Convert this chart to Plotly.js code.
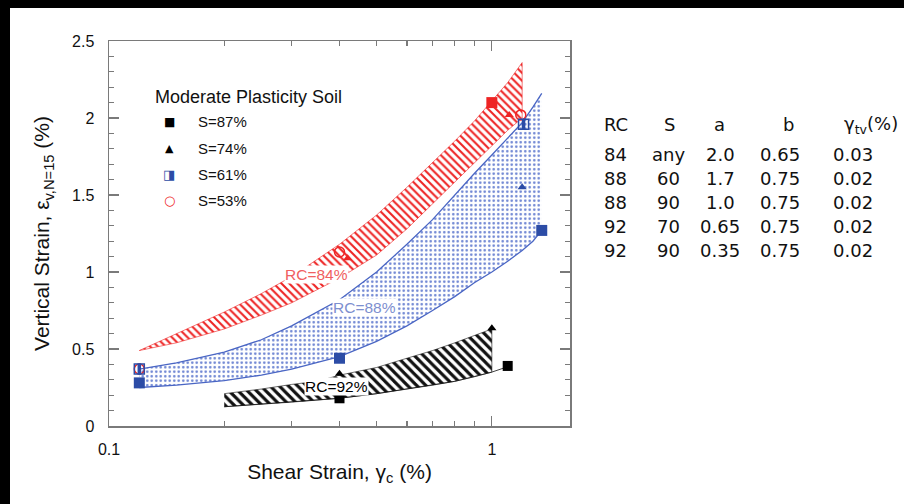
<!DOCTYPE html>
<html>
<head>
<meta charset="utf-8">
<script src="https://cdn.plot.ly/plotly-3.0.1.min.js"></script>
<style>
  html, body { margin: 0; padding: 0; background: #fff; overflow: hidden; }
  #wrap { position: relative; width: 904px; height: 504px; overflow: hidden; }
  #chart { position: absolute; left: 0; top: 0; width: 904px; height: 504px; }
  .bar { position: absolute; background: #000; }
</style>
</head>
<body>
<div id="wrap">
  <div id="chart"></div>
  <div class="bar" style="left:0;top:0;width:904px;height:8px"></div>
  <div class="bar" style="left:0;top:0;width:10px;height:504px"></div>
</div>
<script>
// ---- band edges (shear strain %, vertical strain %) ----
const redX     = [0.12, 0.15, 0.2, 0.25, 0.3, 0.4, 0.5, 0.6, 0.7, 0.8, 0.9, 1.0, 1.1, 1.2];
const redUpper = [0.49, 0.60, 0.74, 0.86, 0.97, 1.18, 1.37, 1.55, 1.71, 1.85, 1.98, 2.11, 2.23, 2.36];
const redLower = [0.49, 0.54, 0.63, 0.72, 0.80, 0.96, 1.11, 1.28, 1.44, 1.58, 1.71, 1.82, 1.92, 2.00];

const blueX     = [0.12, 0.15, 0.2, 0.25, 0.3, 0.4, 0.5, 0.6, 0.7, 0.8, 0.9, 1.0, 1.1, 1.2, 1.28, 1.35];
const blueUpper = [0.37, 0.41, 0.48, 0.56, 0.65, 0.82, 1.00, 1.18, 1.34, 1.50, 1.64, 1.76, 1.87, 1.97, 2.07, 2.16];
const blueLower = [0.25, 0.265, 0.295, 0.33, 0.37, 0.45, 0.55, 0.65, 0.75, 0.84, 0.93, 1.00, 1.07, 1.14, 1.20, 1.27];

const blackUpperX = [0.2, 0.25, 0.3, 0.35, 0.4, 0.5, 0.6, 0.7, 0.8, 0.9, 1.0];
const blackUpperY = [0.21, 0.24, 0.27, 0.29, 0.33, 0.38, 0.44, 0.49, 0.54, 0.585, 0.63];
const blackLowerX = [0.2, 0.3, 0.4, 0.5, 0.6, 0.7, 0.8, 0.9, 1.0, 1.1];
const blackLowerY = [0.125, 0.155, 0.18, 0.21, 0.24, 0.265, 0.29, 0.32, 0.35, 0.385];

// ---- test points ----
const redSqX = [1.0],               redSqY = [2.10];
const redTriX = [1.11, 0.42],       redTriY = [2.02, 1.09];
const redCircX = [1.19, 0.40, 0.12], redCircY = [2.02, 1.13, 0.37];
const blueSqX = [0.12, 0.40, 1.35], blueSqY = [0.28, 0.44, 1.27];
const blueTriX = [1.2],             blueTriY = [1.55];
const blueHalfX = [0.12, 1.21],     blueHalfY = [0.37, 1.96];
const blackSqX = [1.1, 0.40],       blackSqY = [0.39, 0.18];
const blackTriX = [1.0, 0.40],      blackTriY = [0.635, 0.34];

// ---- band labels ----
const bandLabels = ['RC=84%', 'RC=88%', 'RC=92%'];
const bandLabelX = [0.349, 0.464, 0.394];
const bandLabelY = [0.984, 0.767, 0.256];

// ---- legend ----
const legendTitle = 'Moderate Plasticity Soil';
const legendSymbols = ['\u25A0', '\u25B2', '\u25E8', '\u25CB'];
const legendLabels = ['S=87%', 'S=74%', 'S=61%', 'S=53%'];

// ---- parameter table ----
const tableHead = ['RC', 'S', 'a', 'b', '\u03B3<sub>tv</sub>(%)'];
const tableRC  = ['84', '88', '88', '92', '92'];
const tableS   = ['any', '60', '90', '70', '90'];
const tableA   = ['2.0', '1.7', '1.0', '0.65', '0.35'];
const tableB   = ['0.65', '0.75', '0.75', '0.75', '0.75'];
const tableGtv = ['0.03', '0.02', '0.02', '0.02', '0.02'];

const xTickVals = [0.1, 1];
const xTickText = ['0.1', '1'];
const xMinorVals = [0.2, 0.3, 0.4, 0.5, 0.6, 0.7, 0.8, 0.9];

// ---- styling ----
const RED = '#ee2424';
const BLUE = '#2c4ca6';
const BLUE_LINE = '#4a66c4';
const AXIS = '#7a7a7a';
const SANS = 'Liberation Sans, Arial, Helvetica, sans-serif';
const WIDE = 'DejaVu Sans, Verdana, sans-serif';

const M = { l: 109, r: 334, t: 41, b: 78 };
const PW = 904 - M.l - M.r, PH = 504 - M.t - M.b;
const px = v => (v - M.l) / PW;            // page x -> paper x
const py = v => (504 - M.b - v) / PH;      // page y -> paper y

function polygon(xu, yu, xl, yl) {
  return {
    x: xu.concat(xl.slice().reverse()),
    y: yu.concat(yl.slice().reverse())
  };
}

const redPoly = polygon(redX, redUpper, redX, redLower);
const bluePoly = polygon(blueX, blueUpper, blueX, blueLower);
const blkLowIn = blackLowerX.map((x, i) => [x, blackLowerY[i]]).filter(p => p[0] <= 1.0);
const blackPoly = polygon(blackUpperX, blackUpperY, blkLowIn.map(p => p[0]), blkLowIn.map(p => p[1]));

const traces = [
  // RC = 84% band (hatched)
  { x: redPoly.x, y: redPoly.y, mode: 'lines', fill: 'toself',
    line: { color: RED, width: 0.6 }, fillcolor: 'white',
    fillpattern: { shape: '\\', fgcolor: RED, bgcolor: 'white', size: 5.5, solidity: 0.38, fillmode: 'replace' } },
  // RC = 88% band (dotted)
  { x: bluePoly.x, y: bluePoly.y, mode: 'lines', fill: 'toself',
    line: { color: BLUE_LINE, width: 0 }, fillcolor: 'white',
    fillpattern: { shape: '.', fgcolor: '#6a82d2', bgcolor: 'white', size: 4.5, solidity: 0.24, fillmode: 'replace' } },
  { x: blueX, y: blueUpper, mode: 'lines', line: { color: BLUE_LINE, width: 1.3 } },
  { x: blueX, y: blueLower, mode: 'lines', line: { color: BLUE_LINE, width: 1.3 } },
  // RC = 92% band (hatched)
  { x: blackPoly.x, y: blackPoly.y, mode: 'lines', fill: 'toself',
    line: { color: '#111', width: 0.6 }, fillcolor: 'white',
    fillpattern: { shape: '\\', fgcolor: '#111', bgcolor: 'white', size: 6.5, solidity: 0.48, fillmode: 'replace' } },
  { x: blackLowerX, y: blackLowerY, mode: 'lines', line: { color: '#111', width: 0.8 } },

  // markers
  { x: redSqX, y: redSqY, mode: 'markers', marker: { symbol: 'square', size: 11, color: RED } },
  { x: redTriX, y: redTriY, mode: 'markers', marker: { symbol: 'triangle-up', size: 8, color: RED } },
  { x: redCircX, y: redCircY, mode: 'markers',
    marker: { symbol: 'circle-open', size: 10, color: RED, line: { width: 1.5, color: RED } } },
  { x: blueSqX, y: blueSqY, mode: 'markers', marker: { symbol: 'square', size: 11, color: BLUE } },
  { x: blueTriX, y: blueTriY, mode: 'markers', marker: { symbol: 'triangle-up', size: 8, color: BLUE } },
  { x: blueHalfX, y: blueHalfY, mode: 'markers',
    marker: { symbol: 'square-open', size: 10, color: BLUE, line: { width: 1.5, color: BLUE } } },
  { x: blueHalfX, y: blueHalfY, mode: 'markers',
    marker: { symbol: 'line-ns', size: 8, color: BLUE, line: { width: 3.5, color: BLUE } } },
  { x: blackSqX, y: blackSqY, mode: 'markers', marker: { symbol: 'square', size: 10, color: '#000' } },
  { x: blackTriX, y: blackTriY, mode: 'markers', marker: { symbol: 'triangle-up', size: 8, color: '#000' } }
];
traces.forEach(t => { t.showlegend = false; t.hoverinfo = 'skip'; });

const annotations = [];

// band labels
const bandColors = ['#f06060', '#7d8fcf', '#000'];
bandLabels.forEach((txt, i) => {
  annotations.push({
    x: Math.log10(bandLabelX[i]), y: bandLabelY[i], xref: 'x', yref: 'y',
    text: txt, showarrow: false, bgcolor: 'white', borderpad: 0,
    font: { family: SANS, size: 15.5, color: bandColors[i] }
  });
});

// legend block
annotations.push({
  x: px(153), y: py(97), xref: 'paper', yref: 'paper', xanchor: 'left', yanchor: 'middle',
  text: legendTitle, showarrow: false, font: { family: SANS, size: 18, color: '#111' }
});
const symColors = ['#000', '#000', BLUE, RED];
const symSizes = [12, 11, 13, 13];
legendLabels.forEach((txt, i) => {
  const rowY = 122 + i * 26;
  annotations.push({
    x: px(169), y: py(rowY), xref: 'paper', yref: 'paper', xanchor: 'center', yanchor: 'middle',
    text: legendSymbols[i], showarrow: false,
    font: { family: WIDE, size: symSizes[i], color: symColors[i] }
  });
  annotations.push({
    x: px(196), y: py(rowY), xref: 'paper', yref: 'paper', xanchor: 'left', yanchor: 'middle',
    text: txt, showarrow: false, font: { family: SANS, size: 15, color: '#111' }
  });
});

// parameter table
const headX = [602, 669.5, 719.5, 788, 842];
const headAnchor = ['left', 'center', 'center', 'center', 'left'];
tableHead.forEach((txt, j) => {
  annotations.push({
    x: px(headX[j]), y: py(125), xref: 'paper', yref: 'paper',
    xanchor: headAnchor[j], yanchor: 'middle', text: txt, showarrow: false,
    font: { family: WIDE, size: 18, color: '#111' }
  });
});
const cols = [tableRC, tableS, tableA, tableB, tableGtv];
const colX = [602, 668.5, 720, 780, 852.5];
const colAnchor = ['left', 'center', 'center', 'center', 'center'];
const rowY = [154.5, 178.5, 202.5, 226.5, 251];
cols.forEach((col, j) => {
  col.forEach((txt, i) => {
    annotations.push({
      x: px(colX[j]), y: py(rowY[i]), xref: 'paper', yref: 'paper',
      xanchor: colAnchor[j], yanchor: 'middle', text: txt, showarrow: false,
      font: { family: WIDE, size: 18, color: '#111' }
    });
  });
});

const axisCommon = {
  showline: true, linecolor: AXIS, linewidth: 1.5, mirror: 'ticks',
  ticks: 'inside', ticklen: 10, tickwidth: 1.2, tickcolor: AXIS,
  showgrid: false, zeroline: false,
  tickfont: { family: SANS, size: 16, color: '#111' }
};

const layout = {
  width: 904, height: 504,
  margin: M,
  paper_bgcolor: 'white', plot_bgcolor: 'white',
  font: { family: SANS, color: '#111' },
  showlegend: false,
  xaxis: Object.assign({}, axisCommon, {
    type: 'log', range: [Math.log10(0.1), Math.log10(1.6)],
    tickmode: 'array', tickvals: xTickVals, ticktext: xTickText,
    ticklabelstandoff: 8,
    minor: { tickmode: 'array', tickvals: xMinorVals, ticks: 'inside', ticklen: 5, tickwidth: 1.2, tickcolor: AXIS, showgrid: false },
    title: { text: 'Shear Strain, \u03B3<sub>c</sub> (%)', font: { family: SANS, size: 21, color: '#111' }, standoff: 7 }
  }),
  yaxis: Object.assign({}, axisCommon, {
    range: [0, 2.5], dtick: 0.5, tick0: 0,
    ticklabelstandoff: 10,
    minor: { dtick: 0.1, ticks: 'inside', ticklen: 5, tickwidth: 1.2, tickcolor: AXIS, showgrid: false },
    title: { text: 'Vertical Strain, \u03B5<sub>v,N=15</sub> (%)', font: { family: SANS, size: 21, color: '#111' }, standoff: 16 }
  }),
  annotations: annotations
};

Plotly.newPlot('chart', traces, layout, { staticPlot: true, displayModeBar: false });
</script>
</body>
</html>
